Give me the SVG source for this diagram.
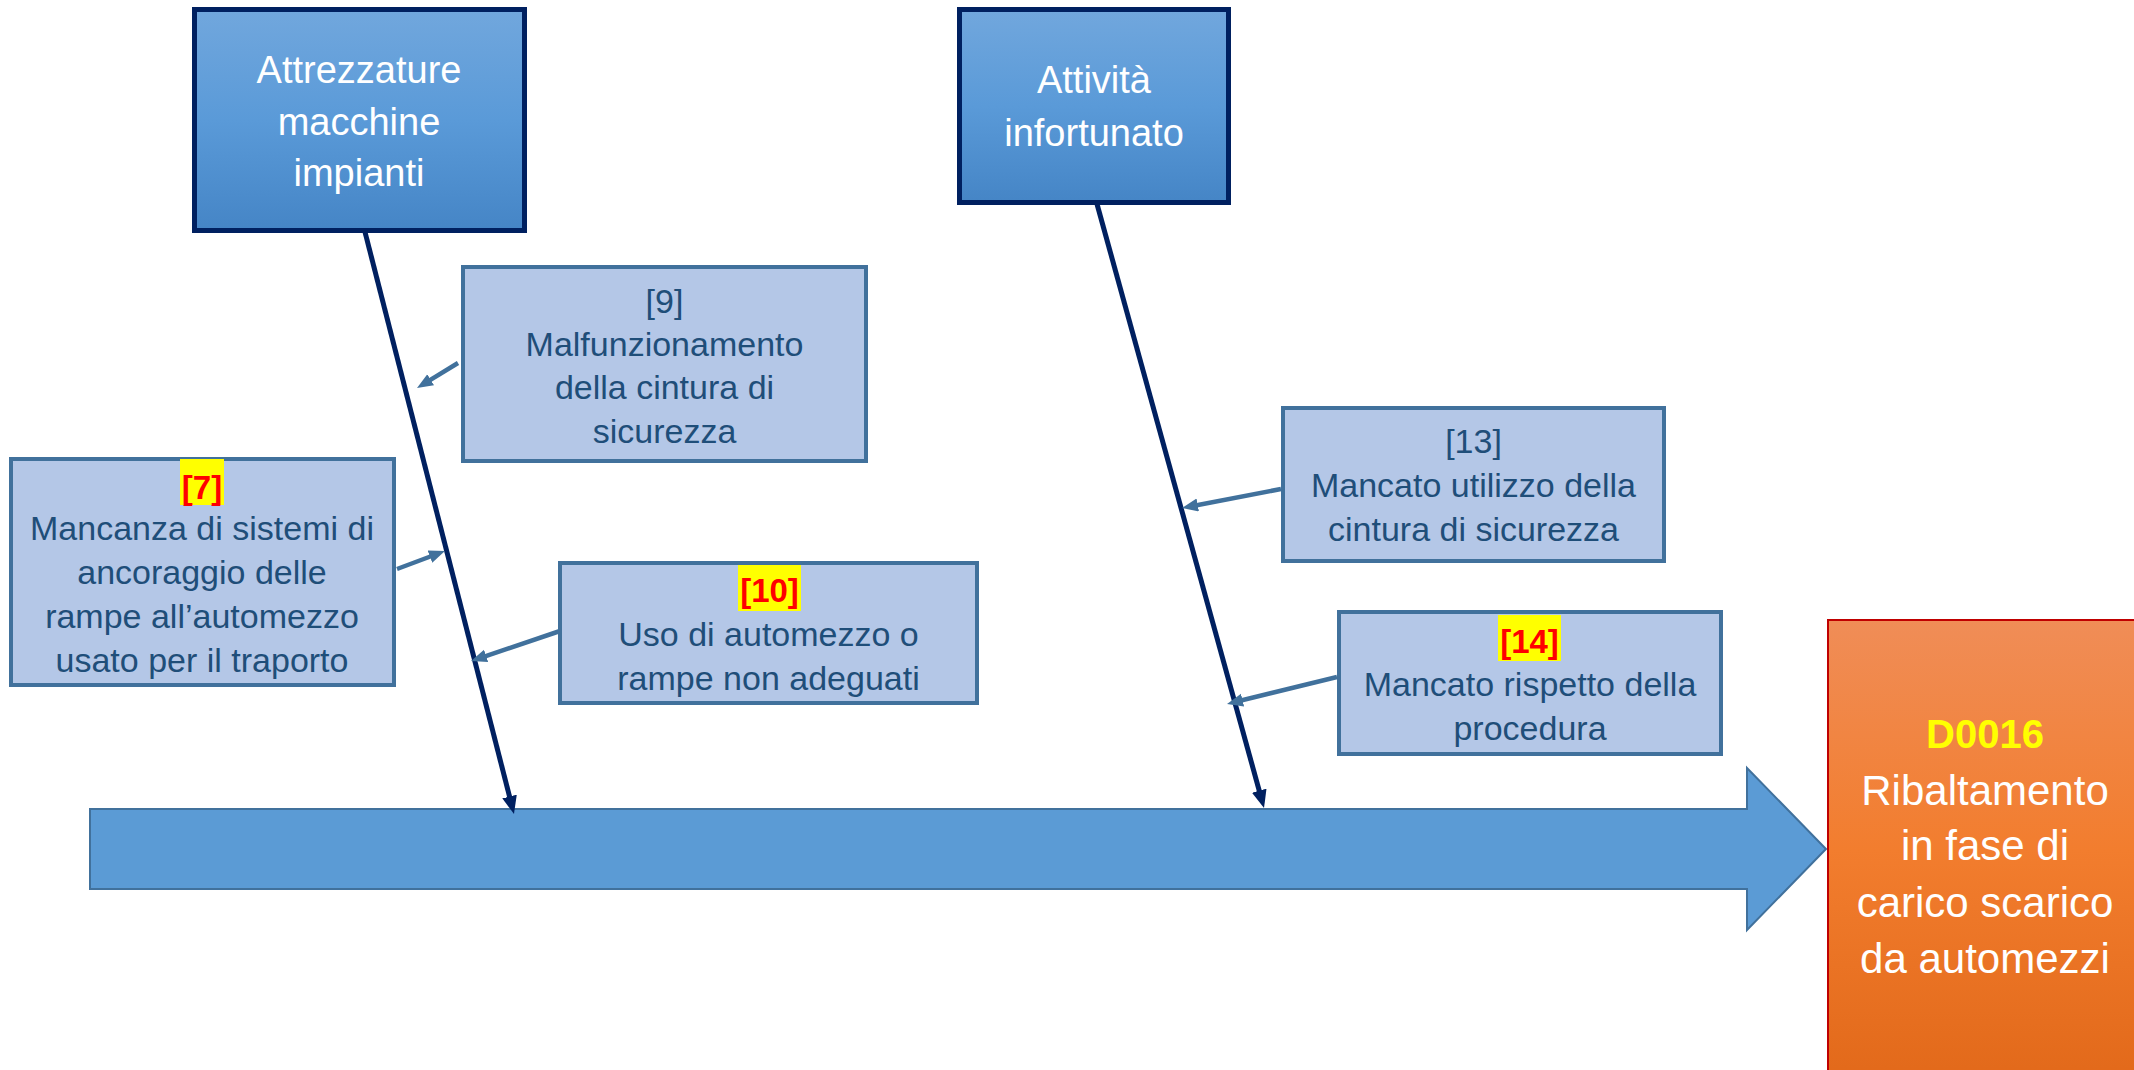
<svg xmlns="http://www.w3.org/2000/svg" width="2134" height="1070" viewBox="0 0 2134 1070">
<defs>
<linearGradient id="gHead" x1="0" y1="0" x2="0" y2="1">
<stop offset="0" stop-color="#71a7dd"/><stop offset="0.5" stop-color="#5a9ad8"/><stop offset="1" stop-color="#4585c6"/>
</linearGradient>
<linearGradient id="gOrange" x1="0" y1="0" x2="0" y2="1">
<stop offset="0" stop-color="#f08d57"/><stop offset="0.5" stop-color="#f27d2e"/><stop offset="1" stop-color="#e2691a"/>
</linearGradient>
<marker id="mBone" markerUnits="userSpaceOnUse" markerWidth="20" markerHeight="16" refX="10" refY="7.5" orient="auto">
<path d="M0,0 L18,7.5 L0,15 z" fill="#002060"/>
</marker>
<marker id="mSmall" markerUnits="userSpaceOnUse" markerWidth="18" markerHeight="15" refX="9" refY="6.5" orient="auto">
<path d="M0,0 L16,6.5 L0,13 z" fill="#41719c"/>
</marker>
</defs>
<style>
.head{fill:url(#gHead);stroke:#002060;stroke-width:5}
.cause{fill:#b4c7e7;stroke:#41719c;stroke-width:4}
.ht{font-family:"Liberation Sans",Arial,sans-serif;font-size:38px;fill:#ffffff;text-anchor:middle}
.ct{font-family:"Liberation Sans",Arial,sans-serif;font-size:34px;fill:#1f4e79;text-anchor:middle}
.cid{font-family:"Liberation Sans",Arial,sans-serif;font-size:33px;font-weight:bold;fill:#ff0000;text-anchor:middle}
.hl{fill:#ffff00}
.ot{font-family:"Liberation Sans",Arial,sans-serif;font-size:42px;fill:#ffffff;text-anchor:middle}
.oid{font-family:"Liberation Sans",Arial,sans-serif;font-size:40px;font-weight:bold;fill:#ffff00;text-anchor:middle}
.bone{stroke:#002060;stroke-width:5;fill:none}
.sm{stroke:#41719c;stroke-width:4.5;fill:none}
</style>

<g id="spine">
<polygon points="90,809 1747,809 1747,768 1826,849 1747,930 1747,889 90,889" fill="#5b9bd5" stroke="#41719c" stroke-width="2"/>
</g>

<g id="connectors">
<line class="bone" x1="365" y1="232" x2="512" y2="806.2" marker-end="url(#mBone)"/>
<line class="bone" x1="1097" y1="204" x2="1261.9" y2="800.3" marker-end="url(#mBone)"/>
<line class="sm" x1="458" y1="363" x2="423" y2="384.4" marker-end="url(#mSmall)"/>
<line class="sm" x1="397" y1="569" x2="438.4" y2="553.5" marker-end="url(#mSmall)"/>
<line class="sm" x1="560" y1="631" x2="477.6" y2="658.8" marker-end="url(#mSmall)"/>
<line class="sm" x1="1281" y1="489" x2="1188.9" y2="506.7" marker-end="url(#mSmall)"/>
<line class="sm" x1="1337" y1="677" x2="1233.8" y2="702.3" marker-end="url(#mSmall)"/>
</g>

<g id="attrezzature">
<rect class="head" x="194.5" y="9.5" width="330" height="221"/>
<text class="ht" x="359" y="83">Attrezzature</text>
<text class="ht" x="359" y="135">macchine</text>
<text class="ht" x="359" y="186">impianti</text>
</g>

<g id="attivita">
<rect class="head" x="959.5" y="9.5" width="269" height="193"/>
<text class="ht" x="1094" y="93">Attività</text>
<text class="ht" x="1094" y="146">infortunato</text>
</g>

<g id="cause9">
<rect class="cause" x="463" y="267" width="403" height="194"/>
<text class="ct" x="664.5" y="313">[9]</text>
<text class="ct" x="664.5" y="356">Malfunzionamento</text>
<text class="ct" x="664.5" y="399">della cintura di</text>
<text class="ct" x="664.5" y="443">sicurezza</text>
</g>

<g id="cause7">
<rect class="cause" x="11" y="459" width="383" height="226"/>
<rect class="hl" x="180" y="459" width="44" height="46"/>
<text class="cid" x="202" y="499">[7]</text>
<text class="ct" x="202" y="540">Mancanza di sistemi di</text>
<text class="ct" x="202" y="584">ancoraggio delle</text>
<text class="ct" x="202" y="628">rampe all’automezzo</text>
<text class="ct" x="202" y="672">usato per il traporto</text>
</g>

<g id="cause10">
<rect class="cause" x="560" y="563" width="417" height="140"/>
<rect class="hl" x="738" y="565" width="63" height="46"/>
<text class="cid" x="769.5" y="602">[10]</text>
<text class="ct" x="768.5" y="646">Uso di automezzo o</text>
<text class="ct" x="768.5" y="690">rampe non adeguati</text>
</g>

<g id="cause13">
<rect class="cause" x="1283" y="408" width="381" height="153"/>
<text class="ct" x="1473.5" y="453">[13]</text>
<text class="ct" x="1473.5" y="497">Mancato utilizzo della</text>
<text class="ct" x="1473.5" y="541">cintura di sicurezza</text>
</g>

<g id="cause14">
<rect class="cause" x="1339" y="612" width="382" height="142"/>
<rect class="hl" x="1498" y="615" width="63" height="46"/>
<text class="cid" x="1529.5" y="653">[14]</text>
<text class="ct" x="1530" y="696">Mancato rispetto della</text>
<text class="ct" x="1530" y="740">procedura</text>
</g>

<g id="effect">
<rect x="1828" y="620" width="320" height="460" fill="url(#gOrange)" stroke="#c00000" stroke-width="2"/>
<text class="oid" x="1985" y="748">D0016</text>
<text class="ot" x="1985" y="805">Ribaltamento</text>
<text class="ot" x="1985" y="860">in fase di</text>
<text class="ot" x="1985" y="917">carico scarico</text>
<text class="ot" x="1985" y="973">da automezzi</text>
</g>
</svg>
